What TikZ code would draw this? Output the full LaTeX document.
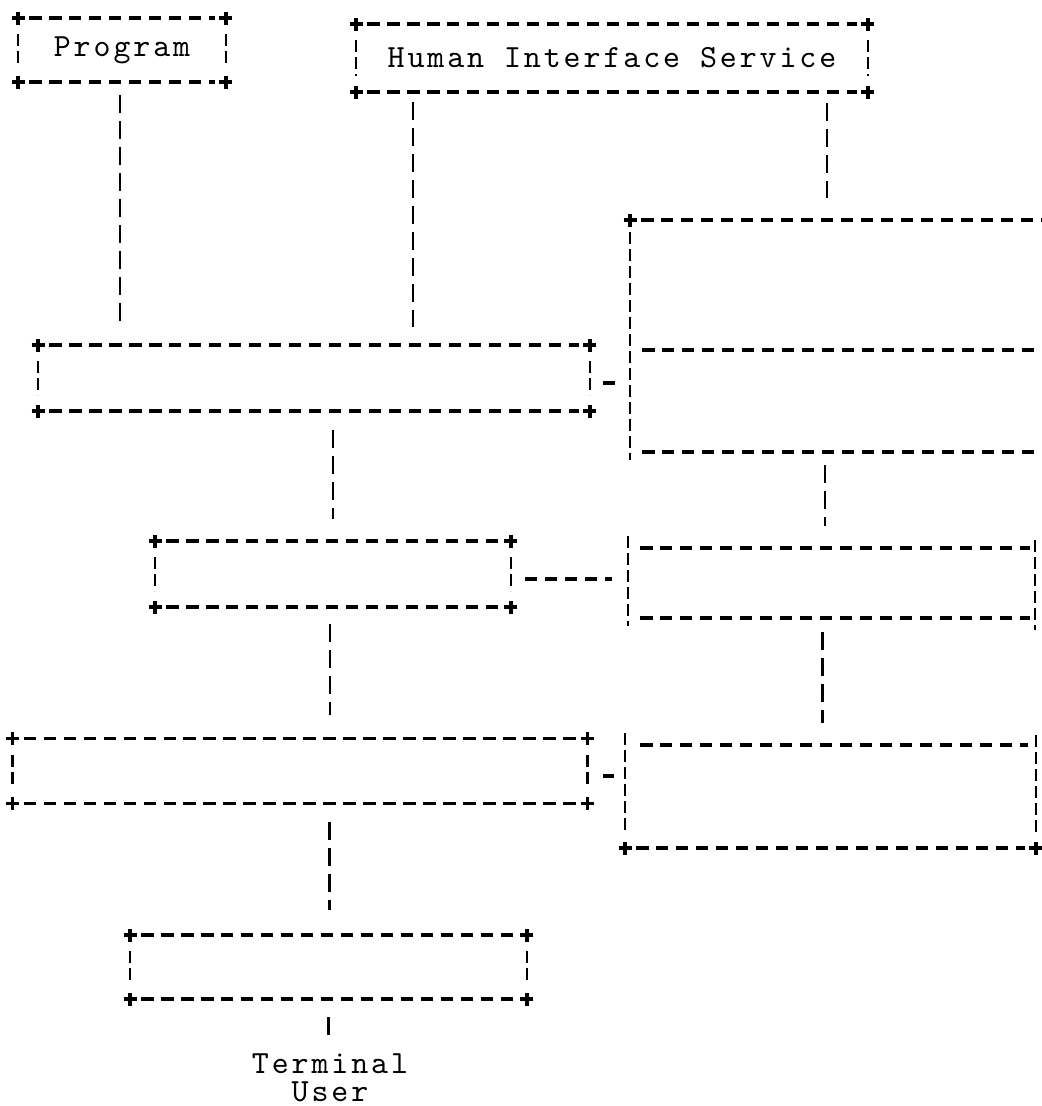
\documentclass[tikz,border=0pt]{standalone}
\usepackage{fontspec}
\newfontfamily\typefont{lmmono10-regular.otf}[LetterSpace=9]
\usetikzlibrary{calc}

% small "+" corner mark
\newcommand\plusmk[1]{\draw[plusmark] (#1) +(-0.65mm,0) -- +(0.65mm,0) +(0,-0.65mm) -- +(0,0.65mm);}
% a character-cell box: "+" corners, dashed top/bottom, broken-bar sides
\newcommand\plusbox[1]{%
  \draw[hline] ([xshift=1.1mm]#1.north west) -- ([xshift=-1.1mm]#1.north east);
  \draw[hline] ([xshift=1.1mm]#1.south west) -- ([xshift=-1.1mm]#1.south east);
  \draw[sideline] ([yshift=-1.6mm]#1.north west) -- ([yshift=1.6mm]#1.south west);
  \draw[sideline] ([yshift=-1.6mm]#1.north east) -- ([yshift=1.6mm]#1.south east);
  \plusmk{#1.north west}\plusmk{#1.north east}\plusmk{#1.south west}\plusmk{#1.south east}}

\begin{document}
\begin{tikzpicture}[x=0.1mm,y=-0.1mm,
  frame/.style={rectangle,inner sep=0pt,outer sep=0pt,
    font=\typefont\fontsize{9.2}{7.9}\selectfont},
  hline/.style={line width=1.05pt,dash pattern=on 1.25mm off 0.75mm},
  sideline/.style={line width=0.6pt,dash pattern=on 1.2mm off 0.5mm},
  vlink/.style={line width=0.6pt,dash pattern=on 1.8mm off 0.8mm},
  plusmark/.style={line width=1pt}]
\useasboundingbox (0,0) rectangle (1042,1106);

% ---- boxes ----
\node[frame,minimum width=20.8mm,minimum height=6.4mm] (prog) at (122,50) {Program};
\node[frame,minimum width=51.2mm,minimum height=6.8mm] (his) at (612,58) {Human Interface Service};
\node[frame,minimum width=41.2mm,minimum height=23.2mm] (R1) at (836,336) {};
\node[frame,minimum width=55.2mm,minimum height=6.6mm] (A) at (314,378) {};
\node[frame,minimum width=35.6mm,minimum height=6.6mm] (B) at (333,574) {};
\node[frame,minimum width=40.7mm,minimum height=7.0mm] (R2) at (831.5,583) {};
\node[frame,minimum width=57.5mm,minimum height=6.5mm] (C) at (300,771) {};
\node[frame,minimum width=41.1mm,minimum height=10.3mm] (R3) at (830.5,796.5) {};
\node[frame,minimum width=39.7mm,minimum height=6.4mm] (D) at (328.5,967) {};
\node[frame,align=center] (user) at (330,1078) {Terminal\\User};

\plusbox{prog}
\plusbox{his}
\plusbox{A}
\plusbox{B}
\plusbox{C}
\plusbox{D}

% right-hand column, open to the right edge
\plusmk{R1.north west}
\draw[hline] ([xshift=1.1mm]R1.north west) -- (R1.north east);
\draw[sideline] ([yshift=-1.2mm]R1.north west) -- ([yshift=-0.8mm]R1.south west);
\draw[hline] ([xshift=1.2mm,yshift=-13mm]R1.north west) -- ([xshift=-0.7mm,yshift=-13mm]R1.north east);
\draw[hline] ([xshift=1.2mm]R1.south west) -- ([xshift=-0.7mm]R1.south east);

\draw[sideline] ([yshift=1.2mm]R2.north west) -- ([yshift=-0.8mm]R2.south west);
\draw[sideline] ([yshift=0.8mm]R2.north east) -- ([yshift=-1.2mm]R2.south east);
\draw[hline] ([xshift=1.2mm]R2.north west) -- ([xshift=-0.5mm]R2.north east);
\draw[hline] ([xshift=1.2mm]R2.south west) -- ([xshift=-0.5mm]R2.south east);

\draw[sideline] ([yshift=1.2mm]R3.north west) -- ([yshift=1.7mm]R3.south west);
\draw[sideline] ([yshift=1.0mm]R3.north east) -- ([yshift=1.2mm]R3.south east);
\draw[hline] ([xshift=1.5mm]R3.north west) -- ([xshift=-0.8mm]R3.north east);
\plusmk{R3.south west}\plusmk{R3.south east}
\draw[hline] ([xshift=1.1mm]R3.south west) -- ([xshift=-1.1mm]R3.south east);

% ---- connectors ----
\coordinate (hisfoot) at ($(his.south west)+(57,0)$);
\coordinate (hisright) at ($(his.south west)+(471,0)$);
\draw[vlink] ($(prog.south)+(-2,13)$) -- ($(A.north -| prog.south)+(-2,-22)$);
\draw[vlink] ($(hisfoot)+(0,10)$) -- ($(A.north -| hisfoot)+(0,-18)$);
\draw[vlink] ($(hisright)+(0,11)$) -- ($(R1.north -| hisright)+(0,-22)$);
\draw[hline] ($(A.east)+(13,5)$) -- ($(A.east -| R1.west)+(-15,5)$);
\draw[vlink] ($(A.south -| B.north)+(0,19)$) -- ($(B.north)+(0,-22)$);
\draw[vlink] ($(R1.south)+(-11,13)$) -- ($(R2.north -| R1.south)+(-11,-22)$);
\draw[hline] ($(B.east)+(14,5)$) -- ($(B.east -| R2.west)+(-16,5)$);
\draw[vlink] ($(B.south)+(-3,17)$) -- ($(C.north -| B.south)+(-3,-24)$);
\draw[vlink] ($(R2.south)+(-9,14)$) -- ($(R3.north -| R2.south)+(-9,-22)$);
\draw[hline] ($(C.east)+(16,5)$) -- ($(C.east -| R3.west)+(-11,5)$);
\draw[vlink] ($(C.south -| D.north)+(1,18)$) -- ($(D.north)+(1,-25)$);
\draw[vlink] ($(D.south)+(0,18)$) -- ($(user.north -| D.south)+(0,-12)$);
\end{tikzpicture}
\end{document}
